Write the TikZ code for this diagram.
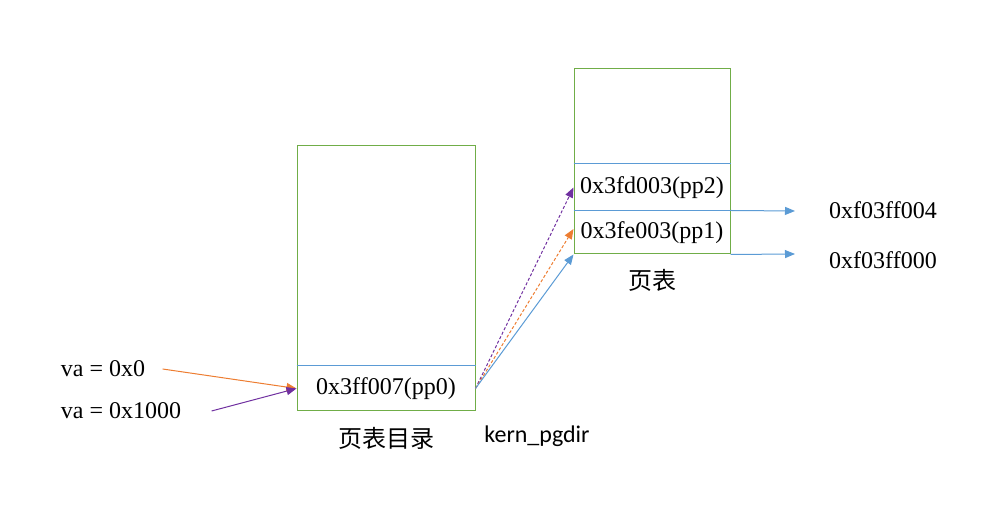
\documentclass[tikz,border=0pt]{standalone}
\usepackage{fontspec}
\setmainfont{Liberation Serif}
\newfontfamily\cjk{Noto Sans CJK SC}
\newfontfamily\calib{Carlito}
\usetikzlibrary{arrows.meta}
\definecolor{boxgreen}{HTML}{70AD47}
\definecolor{lineblue}{HTML}{5B9BD5}
\definecolor{lineorange}{HTML}{ED7D31}
\definecolor{linepurple}{HTML}{7030A0}

\begin{document}
\begin{tikzpicture}[x=0.5pt, y=-0.5pt, font=\fontsize{12}{14}\selectfont,
		>={Triangle[length=5pt, width=4pt]}, line width=0.5pt]
		\tikzstyle{every node}=[inner sep=0pt]
		\tikzstyle{tbl}=[draw=boxgreen]
		\tikzstyle{sep}=[draw=lineblue]
		\tikzstyle{ptr}=[->, dash pattern=on 1.5pt off 1pt]
			\useasboundingbox (0,0) rectangle (992,506);

			% page directory
			\node[tbl, minimum width=89pt, minimum height=132.5pt] (pgdir) at (386,278.5) {};
			\node[minimum width=89pt, minimum height=22.5pt] (pp0) at (386,388.5) {0x3ff007(pp0)};
			\draw[sep] (pp0.north west) -- (pp0.north east);

			% page table
			\node[tbl, minimum width=78pt, minimum height=92.5pt] (pgtbl) at (652,161.5) {};
			\node[minimum width=78pt, minimum height=23.5pt] (pp2) at (652,187.5) {0x3fd003(pp2)};
			\node[minimum width=78pt, minimum height=21.5pt] (pp1) at (652,232.5) {0x3fe003(pp1)};
			\draw[sep] (pp2.north west) -- (pp2.north east);
			\draw[sep] (pp1.north west) -- (pp1.north east);

			\node (va0) at (103,369) {va = 0x0};
			\node (va1) at (121,411) {va = 0x1000};
			\node (pgdircap) at (386,438) {\cjk 页表目录};
			\node (kern) at (537,436) {\calib kern\_pgdir};
			\node (pgtblcap) at (652,280) {\cjk 页表};
			\node (pa4) at (883,210) {0xf03ff004};
			\node (pa0) at (883,260) {0xf03ff000};
			\coordinate (pa4in) at (795,211);
			\coordinate (pa0in) at (795,254);

			\draw[->, lineorange] ([xshift=8.5pt]va0.east) -- (pp0.west);
			\draw[->, linepurple] ([xshift=15pt]va1.east) -- (pp0.west);
			\draw[ptr, linepurple] (pp0.east) -- (pp2.west);
			\draw[ptr, lineorange] (pp0.east) -- ([yshift=1.75pt]pp1.west);
			\draw[->, lineblue] (pp0.east) -- (pp1.south west);
			\draw[->, lineblue] (pp1.north east) -- (pa4in);
			\draw[->, lineblue] (pp1.south east) -- (pa0in);
		\end{tikzpicture}
\end{document}
